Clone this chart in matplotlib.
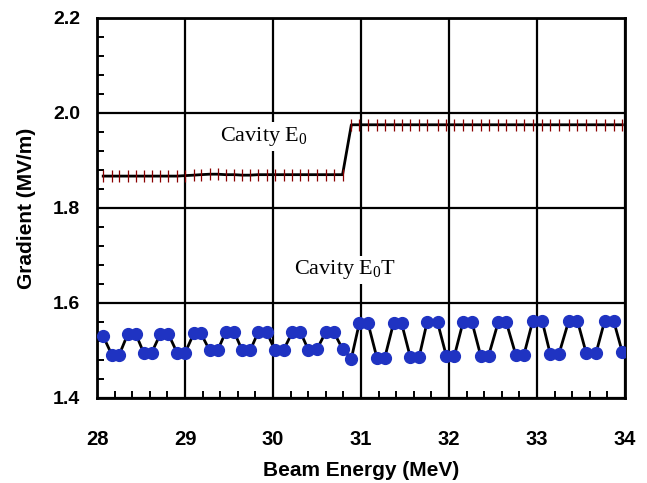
import matplotlib
matplotlib.use("Agg")
import matplotlib.pyplot as plt
from matplotlib.ticker import MultipleLocator

plt.rcParams['font.family'] = 'Liberation Sans'
plt.rcParams['mathtext.fontset'] = 'custom'
plt.rcParams['mathtext.rm'] = 'Liberation Serif'
plt.rcParams['mathtext.it'] = 'Liberation Serif:italic'

# beam energy points (MeV), same for both curves
energy = [28.07, 28.17, 28.25, 28.35, 28.44, 28.53, 28.62, 28.72, 28.81, 28.91,
          29.00, 29.10, 29.18, 29.28, 29.37, 29.46, 29.56, 29.65, 29.74, 29.83,
          29.93, 30.02, 30.12, 30.22, 30.31, 30.40, 30.50, 30.60, 30.69, 30.79,
          30.89, 30.98, 31.08, 31.18, 31.27, 31.37, 31.46, 31.56, 31.66, 31.75,
          31.87, 31.97, 32.06, 32.16, 32.26, 32.36, 32.45, 32.56, 32.65, 32.76,
          32.85, 32.95, 33.06, 33.15, 33.25, 33.36, 33.46, 33.56, 33.67, 33.77,
          33.87, 33.97]

# cavity E0 (MV/m)
cavity_e0 = [1.867, 1.867, 1.867, 1.867, 1.867, 1.867, 1.867, 1.867, 1.867, 1.867,
             1.868, 1.869, 1.870, 1.871, 1.871, 1.870, 1.870, 1.869, 1.869, 1.870,
             1.870, 1.870, 1.870, 1.870, 1.870, 1.870, 1.870, 1.870, 1.870, 1.870,
             1.975, 1.975, 1.975, 1.975, 1.975, 1.975, 1.975, 1.975, 1.975, 1.975,
             1.975, 1.975, 1.975, 1.975, 1.975, 1.975, 1.975, 1.975, 1.975, 1.975,
             1.975, 1.975, 1.975, 1.975, 1.975, 1.975, 1.975, 1.975, 1.975, 1.975,
             1.975, 1.975]

# cavity E0T (MV/m)
cavity_e0t = [1.530, 1.490, 1.490, 1.535, 1.535, 1.495, 1.495, 1.535, 1.535, 1.495,
              1.495, 1.536, 1.536, 1.500, 1.500, 1.538, 1.538, 1.500, 1.500, 1.538,
              1.538, 1.501, 1.501, 1.539, 1.539, 1.502, 1.503, 1.539, 1.539, 1.503,
              1.483, 1.557, 1.557, 1.485, 1.485, 1.558, 1.558, 1.486, 1.486, 1.559,
              1.559, 1.488, 1.488, 1.560, 1.560, 1.489, 1.489, 1.560, 1.560, 1.490,
              1.490, 1.561, 1.561, 1.493, 1.493, 1.562, 1.562, 1.494, 1.494, 1.563,
              1.563, 1.496]

fig = plt.figure(figsize=(6.47, 4.83), dpi=100)
ax = fig.add_axes([0.150, 0.176, 0.816, 0.787])

# upper curve: black line with dark red dash markers
ax.plot(energy, cavity_e0, color='black', lw=2, marker='|', markersize=9,
        markeredgecolor='#8b0000', markeredgewidth=0.9, zorder=3)
# lower curve: black line with blue dots
ax.plot(energy, cavity_e0t, color='black', lw=2, marker='o', markersize=8.5,
        markerfacecolor='#1f33c2', markeredgecolor='#1f33c2', zorder=3)

ax.set_xlim(28, 34)
ax.set_ylim(1.4, 2.2)
ax.xaxis.set_major_locator(MultipleLocator(1))
ax.xaxis.set_minor_locator(MultipleLocator(0.2))
ax.yaxis.set_major_locator(MultipleLocator(0.2))
ax.yaxis.set_minor_locator(MultipleLocator(0.04))
ax.yaxis.set_major_formatter(plt.FormatStrFormatter('%.1f'))

ax.set_axisbelow(True)
ax.grid(True, which='major', color='black', lw=1.6)
ax.tick_params(which='major', direction='in', length=0, labelsize=14)
ax.tick_params(axis='x', which='major', pad=23, labelsize=14.5)
ax.tick_params(axis='y', which='major', pad=12)
ax.tick_params(which='minor', direction='in', length=5, width=1.4)
for lab in ax.get_xticklabels() + ax.get_yticklabels():
    lab.set_fontweight('bold')
for sp in ax.spines.values():
    sp.set_linewidth(2)

ax.set_xlabel('Beam Energy (MeV)', fontsize=15, fontweight='bold', labelpad=9)
ax.set_ylabel('Gradient (MV/m)', fontsize=15, fontweight='bold', labelpad=12)

ax.text(29.9, 1.95, r'Cavity E$_\mathrm{0}$', fontsize=16, family='Liberation Serif',
        ha='center', va='center',
        bbox=dict(facecolor='white', edgecolor='none', pad=2), zorder=2)
ax.text(30.82, 1.67, r'Cavity E$_\mathrm{0}$T', fontsize=16, family='Liberation Serif',
        ha='center', va='center',
        bbox=dict(facecolor='white', edgecolor='none', pad=2), zorder=2)

fig.savefig('out.png', dpi=100)
